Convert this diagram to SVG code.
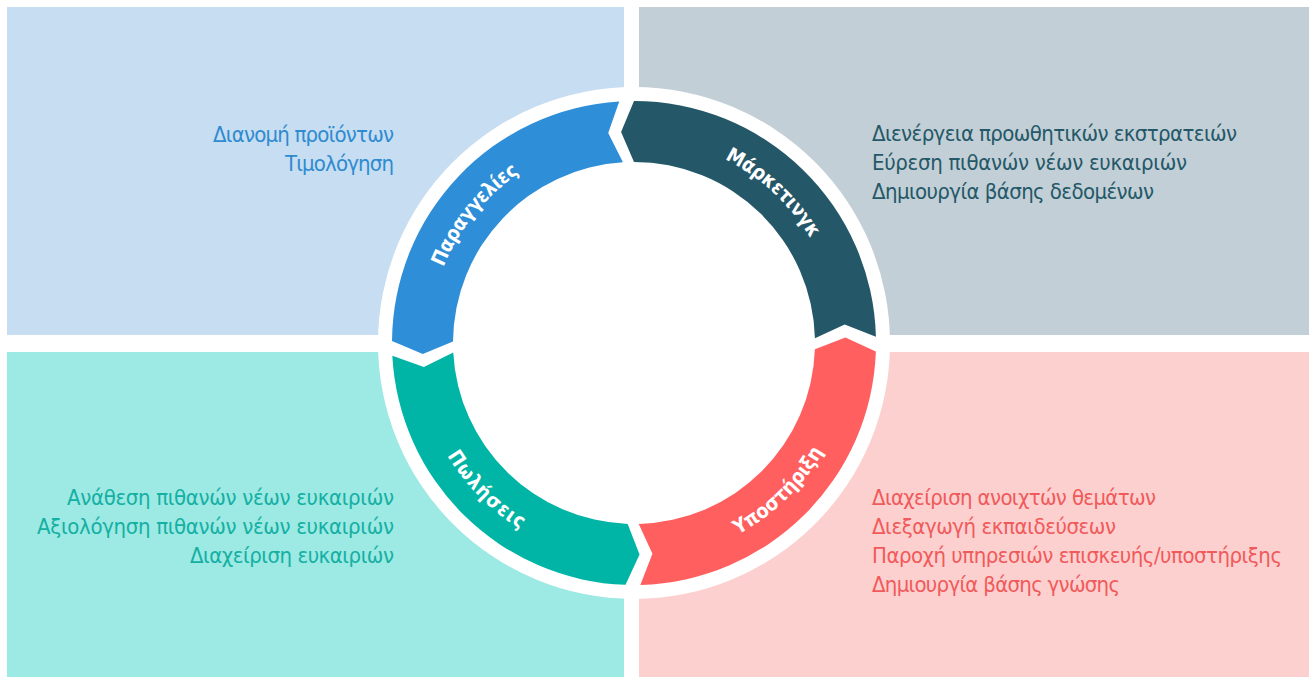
<svg xmlns="http://www.w3.org/2000/svg" width="1309" height="677" viewBox="0 0 1309 677">
<style>
.q{stroke:none}
.t{font-family:"Liberation Sans Narrow","DejaVu Sans Condensed","Roboto",sans-serif;font-size:22px;letter-spacing:1px}
.r{text-anchor:end}
.lbl{font-family:"Liberation Sans Narrow","DejaVu Sans Condensed","Roboto",sans-serif;font-size:20px;font-weight:bold;fill:#ffffff;letter-spacing:1.5px}
</style>
<defs>
<path id="pOrd" d="M432.77,382.12 A205,205 0 0 1 630.42,138.03"/>
<path id="pMkt" d="M609.02,139.53 A205,205 0 0 1 838.72,353.73"/>
<path id="pSup" d="M613.10,560.00 A218,218 0 0 0 851.33,325.90"/>
<path id="pSal" d="M416.83,324.00 A218,218 0 0 0 653.00,560.17"/>
</defs>
<rect width="1309" height="677" fill="#ffffff"/>
<g id="quadrants">
<rect class="q" x="7" y="7" width="617" height="328" fill="#c6ddf2"/>
<rect class="q" x="639" y="7" width="670" height="328" fill="#c2cfd6"/>
<rect class="q" x="7" y="352" width="617" height="325" fill="#9de9e3"/>
<rect class="q" x="639" y="352" width="670" height="325" fill="#fdd0d0"/>
</g>
<circle cx="634" cy="343" r="256" fill="#ffffff"/>
<g id="connectors"></g>
<g id="node-orders">
<path d="M619.23,101.45 A242,242 0 0 0 392.01,340.89 L422.79,354.07 L453.01,341.42 A181,181 0 0 1 622.95,162.34 L608.22,133.08 Z" fill="#2f8ed8"/>
<text class="lbl"><textPath href="#pOrd" startOffset="50%" text-anchor="middle" textLength="124" lengthAdjust="spacing">Παραγγελίες</textPath></text>
<text class="t r" fill="#2f8bd0"><tspan x="395" y="142" textLength="182" lengthAdjust="spacing">Διανομή προϊόντων</tspan><tspan x="395" y="171" textLength="110" lengthAdjust="spacing">Τιμολόγηση</tspan></text>
</g>
<g id="node-marketing">
<path d="M875.92,336.66 A242,242 0 0 0 634,101 L621.09,131.90 L634,162 A181,181 0 0 1 814.94,338.26 L844.69,324.57 Z" fill="#245868"/>
<text class="lbl"><textPath href="#pMkt" startOffset="50%" text-anchor="middle" textLength="120" lengthAdjust="spacing">Μάρκετινγκ</textPath></text>
<text class="t" fill="#245868"><tspan x="872" y="141" textLength="366" lengthAdjust="spacing">Διενέργεια προωθητικών εκστρατειών</tspan><tspan x="872" y="170" textLength="316" lengthAdjust="spacing">Εύρεση πιθανών νέων ευκαιριών</tspan><tspan x="872" y="199" textLength="283" lengthAdjust="spacing">Δημιουργία βάσης δεδομένων</tspan></text>
</g>
<g id="node-sales">
<path d="M392.33,355.67 A242,242 0 0 0 625.55,584.85 L639.54,554.43 L627.68,523.89 A181,181 0 0 1 453.25,352.47 L423.86,366.94 Z" fill="#00b5a5"/>
<text class="lbl"><textPath href="#pSal" startOffset="50%" text-anchor="middle" textLength="106" lengthAdjust="spacing">Πωλήσεις</textPath></text>
<text class="t r" fill="#14b0a3"><tspan x="395" y="505" textLength="328" lengthAdjust="spacing">Ανάθεση πιθανών νέων ευκαιριών</tspan><tspan x="395" y="534" textLength="358" lengthAdjust="spacing">Αξιολόγηση πιθανών νέων ευκαιριών</tspan><tspan x="395" y="563" textLength="205" lengthAdjust="spacing">Διαχείριση ευκαιριών</tspan></text>
</g>
<g id="node-support">
<path d="M640.34,584.92 A242,242 0 0 0 875.85,351.45 L845.43,337.46 L814.89,349.32 A181,181 0 0 1 638.74,523.94 L652.43,553.69 Z" fill="#ff5f5f"/>
<text class="lbl"><textPath href="#pSup" startOffset="50%" text-anchor="middle" textLength="122" lengthAdjust="spacing">Υποστήριξη</textPath></text>
<text class="t" fill="#f05a5a"><tspan x="872" y="505" textLength="285" lengthAdjust="spacing">Διαχείριση ανοιχτών θεμάτων</tspan><tspan x="872" y="534" textLength="245" lengthAdjust="spacing">Διεξαγωγή εκπαιδεύσεων</tspan><tspan x="872" y="563" textLength="411" lengthAdjust="spacing">Παροχή υπηρεσιών επισκευής/υποστήριξης</tspan><tspan x="872" y="592" textLength="249" lengthAdjust="spacing">Δημιουργία βάσης γνώσης</tspan></text>
</g>
</svg>
